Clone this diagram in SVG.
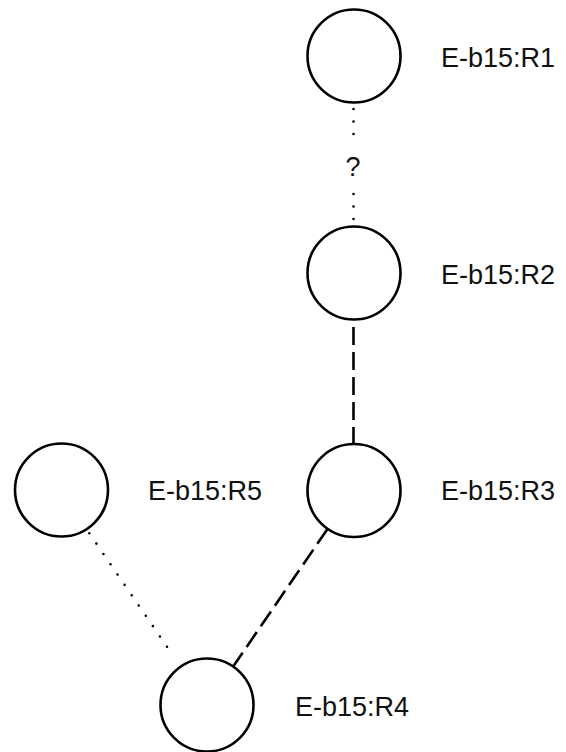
<svg xmlns="http://www.w3.org/2000/svg" width="566" height="752" viewBox="0 0 566 752">
<style>
.node{fill:#fff;stroke:#000;stroke-width:2.6}
.lbl{font-family:"Liberation Sans",Arial,sans-serif;font-size:27px;fill:#111}
.dash{stroke:#000;stroke-width:2.6;fill:none;stroke-dasharray:18 7}
.dot{stroke:#000;stroke-width:2.6;fill:none;stroke-dasharray:0 12.5;stroke-linecap:round}
</style>
<rect width="566" height="752" fill="#fff"/>
<g id="connectors">
<line class="dot" x1="353.5" y1="109" x2="353.5" y2="135"/>
<line class="dot" x1="353.5" y1="194" x2="353.5" y2="221"/>
<text class="lbl" x="353" y="176" text-anchor="middle">?</text>
<line class="dash" x1="353.5" y1="327" x2="353.5" y2="444"/>
<line class="dash" x1="327.5" y1="529" x2="233.5" y2="666"/>
<line class="dot" x1="89.3" y1="533.3" x2="174" y2="657"/>
</g>
<g id="R1"><circle class="node" cx="354" cy="56" r="46.5"/><text class="lbl" x="441" y="67">E-b15:R1</text></g>
<g id="R2"><circle class="node" cx="354" cy="273" r="46.5"/><text class="lbl" x="441" y="284">E-b15:R2</text></g>
<g id="R3"><circle class="node" cx="354" cy="490.5" r="46.5"/><text class="lbl" x="441" y="500">E-b15:R3</text></g>
<g id="R5"><circle class="node" cx="61.5" cy="490" r="46.5"/><text class="lbl" x="148" y="500">E-b15:R5</text></g>
<g id="R4"><circle class="node" cx="207" cy="705" r="46.5"/><text class="lbl" x="295" y="716">E-b15:R4</text></g>
</svg>
